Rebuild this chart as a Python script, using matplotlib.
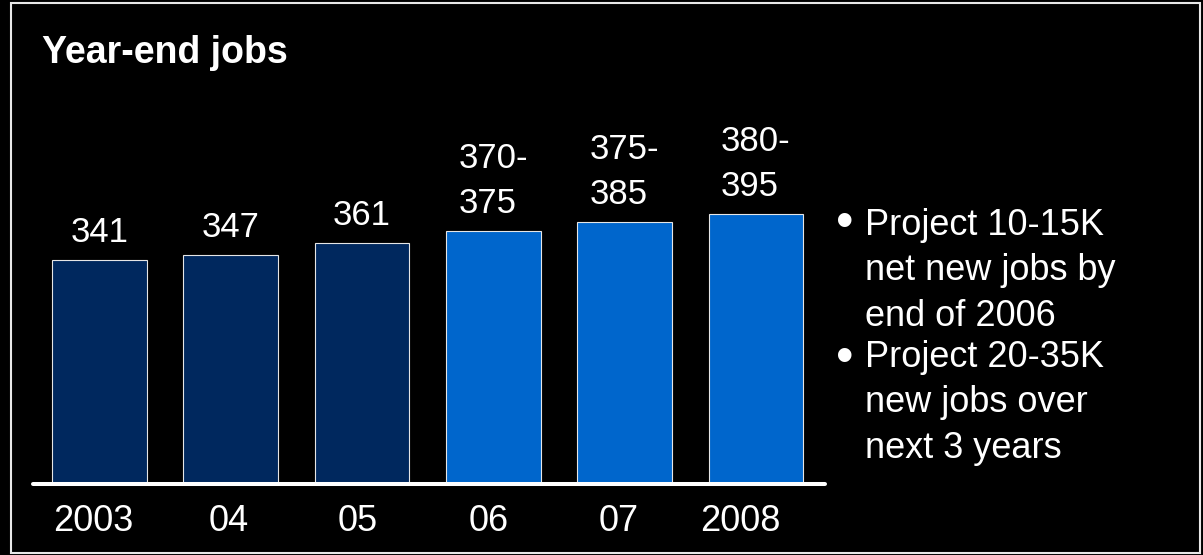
# -*- coding: utf-8 -*-

"""Year-end jobs bar chart with projection notes."""

import numpy as np
import matplotlib.pyplot as plt
from matplotlib.patches import Rectangle


years = ["2003", "04", "05", "06", "07", "2008"]
jobs_low = [341, 347, 361, 370, 375, 380]
jobs_high = [341, 347, 361, 375, 385, 395]
projected = [False, False, False, True, True, True]
notes = ["Project 10-15K\nnet new jobs by\nend of 2006",
	"Project 20-35K\nnew jobs over\nnext 3 years"]

ACTUAL_COLOR = "#00285e"
PROJECTED_COLOR = "#0066cc"
EDGE_COLOR = "#e6e6e6"
AXIS_FLOOR = 78
W, H = 1203, 555
# year labels sit a little left of their bars (points)
YEAR_NUDGE = [-4.3, -1.8, -2.9, -3.6, -4.3, -11.5]


def value_label(low, high):
	"""
	Single number for actual years, a "low-\nhigh" range for projections
	"""
	if low == high:
		return "{}".format(high)
	return "{}-\n{}".format(low, high)


def draw_bars(ax):
	"""
	Bars, value labels, year labels and the white baseline
	"""
	x = np.arange(len(years))
	colors = [PROJECTED_COLOR if p else ACTUAL_COLOR for p in projected]
	ax.bar(x, jobs_high, width=0.72, color=colors, edgecolor=EDGE_COLOR, linewidth=0.8)
	xmin, xmax = -0.506, 5.526
	ax.set_xlim(xmin, xmax)
	# 0.852 px per thousand jobs
	ax.set_ylim(AXIS_FLOOR, AXIS_FLOOR + 424 / 0.852)
	ax.plot([xmin, xmax], [AXIS_FLOOR, AXIS_FLOOR], color="white", lw=2.9,
		solid_capstyle="round", clip_on=False, zorder=5)
	for i in range(len(years)):
		ax.annotate(value_label(jobs_low[i], jobs_high[i]), xy=(i, jobs_high[i]),
			xytext=(0, 8), textcoords="offset points", ha="center", va="bottom",
			multialignment="left", fontsize=25, color="white", linespacing=1.46)
		ax.annotate(years[i], xy=(i, AXIS_FLOOR), xytext=(YEAR_NUDGE[i], -34),
			textcoords="offset points", ha="center", va="baseline",
			fontsize=26, color="white", annotation_clip=False)
	ax.set_xticks([])
	ax.set_yticks([])
	for side in ax.spines:
		ax.spines[side].set_visible(False)


def draw_notes(fig):
	"""
	Title, bullet notes and the outer frame
	"""
	fig.text(42 / W, 1 - 63 / H, "Year-end jobs", fontsize=27, fontweight="bold",
		color="white", va="baseline", ha="left")
	# first and last line baselines of each note
	first_lines = [237, 372]
	last_lines = [326, 458]
	for note, first, last in zip(notes, first_lines, last_lines):
		fig.text(845 / W, 1 - first / H, "\u2022", fontsize=36, color="white",
			ha="center", va="baseline")
		fig.text(865 / W, 1 - last / H, note, fontsize=26, color="white",
			ha="left", va="baseline", linespacing=1.39)
	fig.add_artist(Rectangle((11 / W, 2 / H), 1189 / W, 550 / H, transform=fig.transFigure,
		fill=False, edgecolor="#e8e8e8", linewidth=1.5))


def main():
	"""
	This is the main function
	"""
	plt.rcParams['font.family'] = ['Liberation Sans', 'DejaVu Sans']
	fig = plt.figure(figsize=(W / 100, H / 100), dpi=100, facecolor="black")
	ax = fig.add_axes([33 / W, 71 / H, 792 / W, 424 / H])
	ax.set_facecolor("black")
	draw_bars(ax)
	draw_notes(fig)
	fig.savefig("out.png", dpi=100, facecolor="black")


if __name__ == '__main__':
	main()
